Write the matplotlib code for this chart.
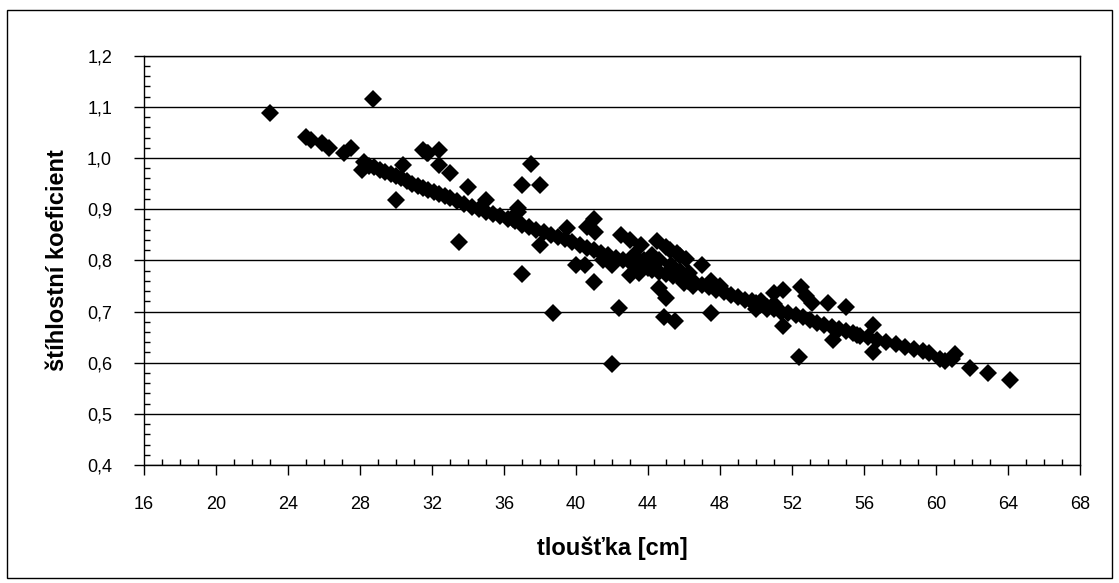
import matplotlib
matplotlib.use("Agg")
import matplotlib.pyplot as plt
from matplotlib.ticker import MultipleLocator, FuncFormatter
from matplotlib.patches import Rectangle

# --- data ---
tloustka = [
    23.0, 28.7,
    25.0, 25.3, 25.9, 26.3, 27.1, 27.5, 28.2, 28.1,
    30.4, 30.0, 31.5, 31.8, 32.4, 32.4, 33.0, 34.0, 33.5, 35.0,
    37.0, 37.5, 38.0, 36.8, 38.0, 37.0, 38.7,
    39.5, 41.0, 40.6, 41.05, 40.5, 41.0, 42.4, 42.0,
    42.5, 43.0, 43.6, 44.5, 45.0, 45.6, 46.1, 45.2, 45.8,
    43.0, 44.6, 45.0, 44.9, 45.5, 47.5, 47.0,
    50.0, 51.0, 51.5, 52.5, 52.8, 53.1, 54.0, 55.0, 51.5, 52.4, 54.3, 56.5, 56.5, 55.6,
    60.9, 61.05, 61.9, 62.9, 64.1,
    28.5, 28.8, 29.1, 29.4, 29.7, 30.0, 30.3, 30.6, 30.9, 31.2, 31.5, 31.8, 32.1, 32.4,
    32.7, 33.0, 33.4, 33.8, 34.2, 34.6, 35.0, 35.4, 35.8, 36.2, 36.6, 37.0, 37.4, 37.8,
    38.2, 38.6, 39.0, 39.4, 39.8, 40.2, 40.6, 41.0, 41.4, 41.8, 42.2, 42.6, 43.0, 43.4,
    43.8, 44.2, 44.6, 45.0, 45.4, 45.8, 46.2, 46.6, 47.0, 47.4, 47.8, 48.2, 48.6, 49.0,
    49.4, 49.8, 50.2, 50.6, 51.0, 51.4, 51.8, 52.2, 52.6, 53.0, 53.4, 53.8, 54.2, 54.6,
    55.0, 55.4, 55.8, 56.2, 56.7, 57.2, 57.8, 58.3, 58.8, 59.3, 59.6, 60.2, 60.5,
    43.2, 43.8, 44.2, 44.6, 45.3, 45.8, 46.3, 44.0, 43.5, 42.0, 41.5,
    46.5, 46.0, 47.5, 48.0, 50.3, 50.6, 51.0, 50.0, 49.8, 40.0, 36.5, 36.8, 31.7,
]
stihlostni_koef = [
    1.088, 1.115,
    1.042, 1.036, 1.029, 1.020, 1.009, 1.019, 0.993, 0.977,
    0.986, 0.918, 1.016, 1.010, 1.016, 0.986, 0.970, 0.944, 0.836, 0.918,
    0.947, 0.988, 0.947, 0.902, 0.830, 0.773, 0.698,
    0.864, 0.880, 0.866, 0.855, 0.791, 0.757, 0.706, 0.597,
    0.850, 0.840, 0.830, 0.838, 0.826, 0.814, 0.803, 0.820, 0.808,
    0.771, 0.745, 0.726, 0.690, 0.682, 0.697, 0.790,
    0.716, 0.737, 0.742, 0.748, 0.730, 0.717, 0.716, 0.709, 0.672, 0.612, 0.645, 0.674, 0.620, 0.655,
    0.608, 0.617, 0.589, 0.579, 0.566,
    0.985, 0.982, 0.977, 0.973, 0.969, 0.965, 0.960, 0.955, 0.950, 0.946, 0.942, 0.938, 0.934, 0.930,
    0.926, 0.922, 0.916, 0.910, 0.905, 0.900, 0.895, 0.890, 0.886, 0.880, 0.876, 0.870, 0.866, 0.860,
    0.855, 0.850, 0.846, 0.842, 0.836, 0.830, 0.825, 0.820, 0.815, 0.810, 0.805, 0.800, 0.796, 0.791,
    0.787, 0.782, 0.778, 0.774, 0.769, 0.765, 0.760, 0.756, 0.752, 0.747, 0.742, 0.738, 0.733, 0.728,
    0.723, 0.718, 0.713, 0.708, 0.704, 0.700, 0.697, 0.694, 0.689, 0.684, 0.678, 0.674, 0.670, 0.666,
    0.662, 0.658, 0.653, 0.650, 0.645, 0.641, 0.636, 0.631, 0.627, 0.622, 0.618, 0.607, 0.604,
    0.810, 0.800, 0.810, 0.800, 0.790, 0.780, 0.775, 0.785, 0.775, 0.790, 0.800,
    0.750, 0.755, 0.760, 0.750, 0.720, 0.705, 0.715, 0.705, 0.720, 0.790, 0.880, 0.895, 1.010,
]

x_ticks = [16, 20, 24, 28, 32, 36, 40, 44, 48, 52, 56, 60, 64, 68]
y_ticks = [0.4, 0.5, 0.6, 0.7, 0.8, 0.9, 1.0, 1.1, 1.2]

plt.rcParams['font.family'] = ['Liberation Sans', 'DejaVu Sans']

fig = plt.figure(figsize=(11.19, 5.83), dpi=100)
fig.patches.append(Rectangle((7 / 1119, 5 / 583), 1105 / 1119, 568 / 583,
                             transform=fig.transFigure, fill=False,
                             edgecolor='black', linewidth=1.0))
ax = fig.add_axes([144 / 1119, 1 - 465 / 583, 936 / 1119, (465 - 55.7) / 583])

ax.set_xlim(16, 68)
ax.set_ylim(0.4, 1.2)
ax.set_xticks(x_ticks)
ax.set_yticks(y_ticks)
ax.xaxis.set_minor_locator(MultipleLocator(1))
ax.yaxis.set_minor_locator(MultipleLocator(0.02))
ax.yaxis.set_major_formatter(FuncFormatter(lambda v, p: f"{v:.1f}".replace('.', ',')))
ax.xaxis.set_major_formatter(FuncFormatter(lambda v, p: f"{v:.0f}"))

ax.grid(axis='y', which='major', color='black', linewidth=1.0)
ax.set_axisbelow(True)

ax.tick_params(axis='both', which='major', direction='out', length=7, width=1,
               labelsize=13, colors='black')
ax.tick_params(axis='x', which='major', pad=15)
ax.tick_params(axis='y', which='major', pad=16)
ax.tick_params(axis='both', which='minor', direction='in', length=4, width=1)

for s in ax.spines.values():
    s.set_color('black')
    s.set_linewidth(1.0)

ax.plot(tloustka, stihlostni_koef, linestyle='none', marker='D',
        markersize=9.5, color='black', markeredgewidth=0, zorder=3, clip_on=False)

ax.set_xlabel('tloušťka [cm]', fontsize=17, fontweight='bold')
ax.set_ylabel('štíhlostní koeficient', fontsize=17, fontweight='bold')
ax.xaxis.set_label_coords(0.5, (465 - 548) / 409.3)
ax.yaxis.set_label_coords((58 - 144) / 936, 0.5)
ax.xaxis.label.set_verticalalignment('center')
ax.yaxis.label.set_verticalalignment('center')

fig.savefig('out.png', dpi=100)
